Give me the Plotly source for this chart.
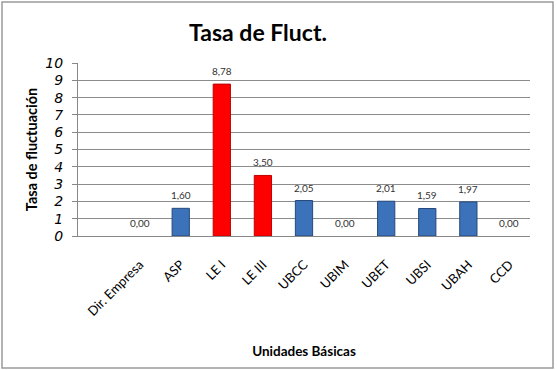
import plotly.graph_objects as go

categories = ["Dir. Empresa", "ASP", "LE I", "LE III", "UBCC", "UBIM", "UBET", "UBSI", "UBAH", "CCD"]
values = [0.00, 1.60, 8.78, 3.50, 2.05, 0.00, 2.01, 1.59, 1.97, 0.00]
highlight = [False, False, True, True, False, False, False, False, False, False]
y_ticks = list(range(0, 11))

bar_colors = ["#ff0000" if h else "#3b72b9" for h in highlight]
line_colors = ["#c00000" if h else "#27497a" for h in highlight]
line_widths = [0 if v == 0 else 1 for v in values]

fig = go.Figure()
fig.add_trace(go.Bar(
    x=categories, y=values,
    marker=dict(color=bar_colors, line=dict(color=line_colors, width=line_widths)),
    hoverinfo="x+y",
))

for c, v in zip(categories, values):
    fig.add_annotation(x=c, y=v, text=f"{v:.2f}".replace(".", ","), showarrow=False,
                       yshift=13, font=dict(family="Lato, sans-serif", size=10, color="#333"))

L, R, T, B = 78, 27, 63, 134
pw, ph = 557 - L - R, 370 - T - B

fig.update_layout(
    width=557, height=370,
    margin=dict(l=L, r=R, t=T, b=B),
    paper_bgcolor="white", plot_bgcolor="white",
    bargap=0.58,
    showlegend=False,
    separators=",.",
    title=dict(text="<b>Tasa de Fluct.</b>", xref="container", x=258 / 557, xanchor="center",
               y=0.91, yanchor="middle",
               font=dict(family="Lato, sans-serif", size=23, color="#000")),
    font=dict(family="Lato, sans-serif", color="#000"),
    shapes=[dict(type="rect", xref="paper", yref="paper",
                 x0=(2 - L) / pw, x1=(553 - L) / pw,
                 y0=(370 - B - 368) / ph, y1=(370 - B - 2) / ph,
                 line=dict(color="#9a9a9a", width=1.5))],
)
fig.update_yaxes(range=[0, 10], tickvals=y_ticks, ticks="outside", ticklen=5, tickcolor="#888",
                 ticklabelstandoff=6,
                 showgrid=True, gridcolor="#8c8c8c", gridwidth=1,
                 showline=True, linecolor="#888", zeroline=False,
                 tickfont=dict(family="DejaVu Sans, sans-serif", size=14, style="italic", color="#000"),
                 title=dict(text="<b>Tasa de fluctuación</b>", font=dict(size=14.5), standoff=4))
fig.update_xaxes(range=[-1.5, 9.5], tickangle=-45, showline=True, linecolor="#888",
                 ticks="outside", ticklen=15, tickcolor="rgba(0,0,0,0)",
                 tickfont=dict(family="Lato, sans-serif", size=13, color="#000"),
                 title=dict(text="<b>Unidades Básicas</b>", font=dict(size=13.5), standoff=28))

fig.write_html("out.html")
